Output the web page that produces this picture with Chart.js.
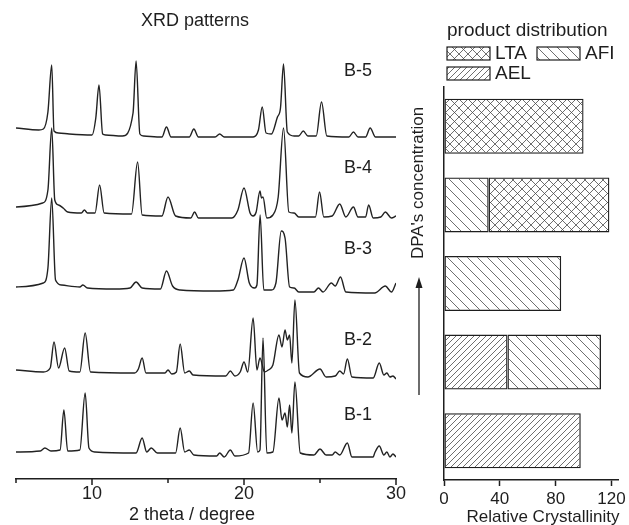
<!DOCTYPE html>
<html>
<head>
<meta charset="utf-8">
<script src="https://cdn.jsdelivr.net/npm/chart.js@4"></script>
<style>
body { margin: 0; background: #fff; }
#wrap { position: relative; width: 629px; height: 525px; }
canvas { position: absolute; left: 0; top: 0; }
</style>
</head>
<body>
<div id="wrap">
<canvas id="xrd" width="629" height="525"></canvas>
<canvas id="bars" width="629" height="525"></canvas>
</div>
<script>
// ---- XRD patterns: [2theta, relative intensity] ----
const sampleNames = ["B-1", "B-2", "B-3", "B-4", "B-5"];
const offsets = [28, 107, 192, 269, 351];

const b1 = [[5.0,-1],[6.6,0],[6.9,3],[7.3,0],[7.9,1],[8.15,41],[8.4,0],[9.2,1],[9.55,58],[9.8,3],[10.2,-1],
  [12.9,-2],[13.3,13],[13.6,-1],[13.9,3],[14.3,-2],[15.5,-2],[15.8,23],[16.1,-1],[16.4,1],[16.7,-4],
  [18.2,-5],[18.4,-2],[18.7,-6],[19.1,1],[19.4,-5],[20.3,-2],[20.6,48],[20.9,-1],[21.05,1],[21.25,113],
  [21.5,-2],[21.9,-1],[22.3,53],[22.5,31],[22.7,38],[22.85,24],[23.0,46],[23.15,18],[23.35,69],[23.7,-2],
  [24.6,-4],[25.0,2],[25.4,-4],[25.8,-4],[26.0,-1],[26.3,-4],[26.8,8],[27.1,-6],[28.5,-6],[28.6,-2],
  [28.9,5],[29.2,-4],[29.4,-1],[29.6,-6],[29.8,-3],[30.0,-6]];

const b2 = [[5.0,2],[6.8,0],[7.25,4],[7.5,30],[7.8,4],[8.2,24],[8.5,1],[9.2,0],[9.55,39],[9.9,0],
  [12.8,-1],[13.05,3],[13.3,14],[13.55,-1],[14.8,-1],[15.0,2],[15.25,-2],[15.55,0],[15.8,28],[16.1,-1],
  [16.4,1],[16.65,-3],[18.8,-4],[19.1,1],[19.4,-4],[19.75,0],[20.0,10],[20.25,0],[20.6,54],[20.85,2],
  [21.05,14],[21.35,0],[21.6,2],[21.9,7],[22.3,37],[22.5,25],[22.7,42],[22.85,32],[23.0,37],[23.15,9],
  [23.35,72],[23.65,-1],[24.2,-5],[25.0,3],[25.4,-5],[26.0,-4],[26.3,1],[26.55,-2],[26.8,13],[27.1,-5],
  [28.5,-6],[28.9,9],[29.2,-3],[29.4,-1],[29.6,-5],[29.8,-4],[30.0,-7]];

const b3 = [[5.0,0],[6.8,4],[7.1,19],[7.35,89],[7.6,7],[8.0,2],[9.2,0],[9.4,2],[9.7,-1],[11.5,-2],
  [12.5,-1],[12.9,5],[13.3,-1],[14.5,-2],[14.9,16],[15.3,1],[15.8,-3],[18.0,-4],[19.3,-3],[19.6,7],
  [20.0,29],[20.35,4],[20.7,-1],[20.85,2],[21.06,72],[21.3,-3],[21.8,-3],[22.1,4],[22.45,56],[22.7,49],
  [23.0,0],[23.3,-1],[23.6,-5],[24.6,-5],[24.9,-1],[25.2,-5],[25.75,4],[26.0,1],[26.35,10],[26.7,-5],
  [28.6,-6],[29.3,1],[29.7,-5],[30.0,4]];

const b4 = [[5.0,3],[6.75,7],[7.1,20],[7.35,82],[7.55,10],[7.8,5],[8.1,2],[8.4,-2],[9.3,-3],[9.5,0],
  [9.7,-3],[10.2,-3],[10.5,25],[10.8,-3],[12.6,-4],[13.0,48],[13.3,-5],[14.6,-6],[15.0,13],[15.5,-6],
  [16.5,-8],[16.75,-2],[17.0,-8],[19.2,-8],[19.6,0],[20.0,22],[20.4,-3],[20.6,-6],[20.8,-2],[21.05,19],
  [21.15,12],[21.25,13],[21.5,-8],[21.9,-5],[22.25,13],[22.6,82],[22.95,-2],[23.3,-3],[23.6,-7],[24.7,-7],
  [24.97,18],[25.25,-7],[25.8,-6],[26.3,6],[26.7,-7],[27.2,3],[27.5,-7],[28.0,-7],[28.2,5],[28.5,-8],
  [29.0,-7],[29.3,-2],[29.7,-8],[30.0,-6]];

const b5 = [[5.0,0],[6.5,-2],[6.8,-1],[7.1,16],[7.35,63],[7.5,-3],[7.8,-5],[8.5,-6],[10.0,-7],[10.25,10],
  [10.46,43],[10.7,-6],[10.9,-7],[12.0,-8],[12.7,15],[12.9,67],[13.15,-6],[13.4,-8],[14.6,-9],[14.9,1],
  [15.2,-9],[16.4,-9],[16.7,-1],[17.0,-9],[18.1,-9],[18.4,-6],[18.7,-9],[20.6,-9],[20.95,-2],[21.2,21],
  [21.45,-5],[21.8,-6],[22.2,11],[22.4,20],[22.6,64],[22.85,-4],[23.3,-8],[23.6,-8],[23.9,-3],[24.2,-8],
  [24.75,-8],[25.1,26],[25.45,-8],[26.9,-9],[27.2,-4],[27.5,-9],[28.0,-9],[28.3,0],[28.65,-9],[30.0,-9]];

const patterns = [b1, b2, b3, b4, b5];
const xTicks = [5, 10, 15, 20, 25, 30];

// ---- product distribution (relative crystallinity) ----
const aelVals = [98, 45.5, null, null, null];
const afiVals = [null, 67, 84, 32, null];
const ltaVals = [null, null, null, 86.5, 100];
const crystTicks = [0, 40, 80, 120];

const ink = "#1e1e1e";
const fam = '"Liberation Sans", Arial, sans-serif';

function hatch(size, dirs) {
    const c = document.createElement("canvas");
    c.width = size;
    c.height = size;
    const g = c.getContext("2d");
    g.strokeStyle = "#4a4a4a";
    g.lineWidth = 0.8;
    g.beginPath();
    dirs.forEach((d) => {
        if (d == "/") {
            g.moveTo(0, size); g.lineTo(size, 0);
            g.moveTo(-1, 1); g.lineTo(1, -1);
            g.moveTo(size - 1, size + 1); g.lineTo(size + 1, size - 1);
        } else {
            g.moveTo(0, 0); g.lineTo(size, size);
            g.moveTo(-1, size - 1); g.lineTo(1, size + 1);
            g.moveTo(size - 1, -1); g.lineTo(size + 1, 1);
        }
    });
    g.stroke();
    return g.createPattern(c, "repeat");
}

const ltaFill = hatch(9, ["/", "\\"]);
const afiFill = hatch(10, ["\\"]);
const aelFill = hatch(6, ["/"]);

// left panel annotations + ticks (minor ticks shorter)
const xrdText = {
    id: "xrdText",
    afterDraw(chart) {
        const ctx = chart.ctx;
        const xs = chart.scales.x;
        const ys = chart.scales.y;
        ctx.save();
        ctx.strokeStyle = ink;
        ctx.lineWidth = 1.5;
        ctx.beginPath();
        xTicks.forEach((v) => {
            const px = Math.round(xs.getPixelForValue(v));
            ctx.moveTo(px, xs.top);
            ctx.lineTo(px, xs.top + (v % 10 == 0 ? 6 : 4));
        });
        ctx.stroke();
        ctx.fillStyle = ink;
        ctx.textAlign = "center";
        ctx.textBaseline = "middle";
        ctx.font = "18px " + fam;
        ctx.fillText("XRD patterns", 195, 21);
        ctx.fillText("2 theta / degree", 192, 515);
        const labelY = [64, 139, 230, 311, 408];
        sampleNames.forEach((n, i) => {
            ctx.fillText(n, xs.getPixelForValue(27.5), ys.getPixelForValue(labelY[i]));
        });
        ctx.restore();
    },
};

new Chart(document.getElementById("xrd"), {
    type: "line",
    data: {
        datasets: patterns.map((p, i) => ({
            label: sampleNames[i],
            data: p.map(([t, h]) => ({ x: t, y: h + offsets[i] })),
            borderColor: "#222",
            borderWidth: 1.4,
            pointRadius: 0,
            cubicInterpolationMode: "monotone",
            fill: false,
        })),
    },
    options: {
        responsive: false,
        animation: false,
        layout: { padding: { left: 16, right: 233, top: 39, bottom: 0 } },
        plugins: { legend: { display: false }, tooltip: { enabled: false } },
        scales: {
            x: {
                type: "linear",
                min: 5,
                max: 30,
                afterBuildTicks: (s) => { s.ticks = xTicks.map((v) => ({ value: v })); },
                ticks: {
                    color: ink,
                    padding: 4,
                    maxRotation: 0,
                    autoSkip: false,
                    font: { family: fam, size: 18 },
                    callback: (v) => (v % 10 == 0 ? v : ""),
                },
                grid: { drawOnChartArea: false, drawTicks: false, tickLength: 6 },
                border: { color: ink, width: 1.5 },
                afterFit: (s) => { s.height = 46; },
            },
            y: { display: false, min: 0, max: 440 },
        },
    },
    plugins: [xrdText],
});

// right panel legend, arrow and labels
const barText = {
    id: "barText",
    afterDraw(chart) {
        const ctx = chart.ctx;
        ctx.save();
        ctx.fillStyle = ink;
        ctx.textBaseline = "middle";
        ctx.textAlign = "left";
        ctx.font = "19px " + fam;
        ctx.fillText("product distribution", 447, 31);
        const items = [[2, 447, 47], [1, 537, 47], [0, 447, 67]];
        items.forEach(([di, x, y]) => {
            const ds = chart.data.datasets[di];
            ctx.fillStyle = "#fff";
            ctx.fillRect(x, y, 43, 13);
            ctx.fillStyle = ds.backgroundColor;
            ctx.fillRect(x, y, 43, 13);
            ctx.strokeStyle = ink;
            ctx.lineWidth = 1.2;
            ctx.strokeRect(x, y, 43, 13);
            ctx.fillStyle = ink;
            ctx.fillText(ds.label, x + 48, y + 7);
        });
        ctx.font = "17px " + fam;
        ctx.textAlign = "center";
        ctx.fillText("Relative Crystallinity", 543, 517);
        ctx.translate(418, 183);
        ctx.rotate(-Math.PI / 2);
        ctx.fillText("DPA's concentration", 0, 0);
        ctx.restore();

        ctx.save();
        ctx.strokeStyle = ink;
        ctx.fillStyle = ink;
        ctx.lineWidth = 1.3;
        ctx.beginPath();
        ctx.moveTo(419, 395);
        ctx.lineTo(419, 285);
        ctx.stroke();
        ctx.beginPath();
        ctx.moveTo(419, 277);
        ctx.lineTo(415.5, 288);
        ctx.lineTo(422.5, 288);
        ctx.closePath();
        ctx.fill();
        ctx.restore();
    },
};

new Chart(document.getElementById("bars"), {
    type: "bar",
    data: {
        labels: sampleNames,
        datasets: [
            { label: "AEL", data: aelVals, backgroundColor: aelFill },
            { label: "AFI", data: afiVals, backgroundColor: afiFill },
            { label: "LTA", data: ltaVals, backgroundColor: ltaFill },
        ].map((d) => Object.assign(d, {
            borderColor: ink,
            borderWidth: 1.3,
            borderSkipped: false,
            barPercentage: 0.7,
            categoryPercentage: 1,
        })),
    },
    options: {
        indexAxis: "y",
        responsive: false,
        animation: false,
        layout: { padding: { left: 444, right: 9, top: 87, bottom: 0 } },
        plugins: { legend: { display: false }, tooltip: { enabled: false } },
        scales: {
            x: {
                stacked: true,
                min: 0,
                max: 125,
                afterBuildTicks: (s) => { s.ticks = crystTicks.map((v) => ({ value: v })); },
                ticks: { color: ink, padding: 3, maxRotation: 0, font: { family: fam, size: 17 } },
                grid: { drawOnChartArea: false, tickLength: 6, tickColor: ink, tickWidth: 1.5 },
                border: { color: ink, width: 1.5 },
                afterFit: (s) => { s.height = 45; },
            },
            y: {
                stacked: true,
                reverse: true,
                ticks: { display: false },
                grid: { drawOnChartArea: false, drawTicks: false, tickLength: 0 },
                border: { color: ink, width: 1.5 },
                afterFit: (s) => { s.width = 0; },
            },
        },
    },
    plugins: [barText],
});
</script>
</body>
</html>
